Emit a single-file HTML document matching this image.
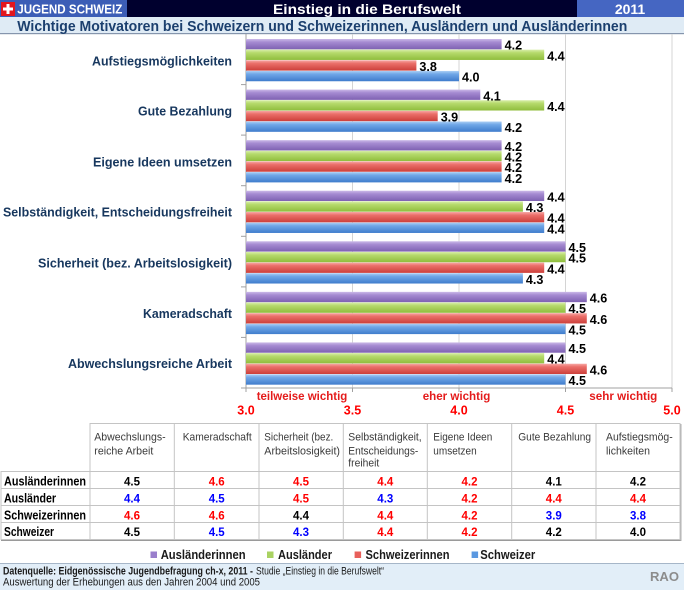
<!DOCTYPE html>
<html><head><meta charset="utf-8"><style>
html,body{margin:0;padding:0;background:#fff;}
svg{display:block;font-family:"Liberation Sans",Arial,sans-serif;}
</style></head><body>
<svg width="684" height="590" viewBox="0 0 684 590" xmlns="http://www.w3.org/2000/svg">
<defs>
<linearGradient id="gp" x1="0" y1="0" x2="0" y2="1"><stop offset="0" stop-color="#cbb9e8"/><stop offset="0.3" stop-color="#a68bd2"/><stop offset="1" stop-color="#7e61b2"/></linearGradient>
<linearGradient id="gg" x1="0" y1="0" x2="0" y2="1"><stop offset="0" stop-color="#d8eeaa"/><stop offset="0.3" stop-color="#b6da6c"/><stop offset="1" stop-color="#8fbd3c"/></linearGradient>
<linearGradient id="gr" x1="0" y1="0" x2="0" y2="1"><stop offset="0" stop-color="#f7a8a5"/><stop offset="0.3" stop-color="#eb6f6a"/><stop offset="1" stop-color="#cc3f3a"/></linearGradient>
<linearGradient id="gb" x1="0" y1="0" x2="0" y2="1"><stop offset="0" stop-color="#abcff5"/><stop offset="0.3" stop-color="#70a7e7"/><stop offset="1" stop-color="#3f7ccc"/></linearGradient>
</defs>

<!-- header row 1 -->
<rect x="0" y="0" width="127" height="17" fill="#3c5db6"/>
<rect x="127" y="0" width="450" height="17" fill="#00002e"/>
<rect x="577" y="0" width="107" height="17" fill="#4566c2"/>
<rect x="1" y="2" width="14" height="14" fill="#e3161e"/>
<rect x="6.5" y="4" width="3" height="10" fill="#fff"/>
<rect x="3" y="7.5" width="10" height="3" fill="#fff"/>
<text x="17.3" y="13.5" font-size="12.5" font-weight="bold" fill="#fff" textLength="105" lengthAdjust="spacingAndGlyphs">JUGEND SCHWEIZ</text>
<text x="273" y="14" font-size="14" font-weight="bold" fill="#fff" textLength="188" lengthAdjust="spacingAndGlyphs">Einstieg in die Berufswelt</text>
<text x="630" y="14" font-size="14" font-weight="bold" fill="#fff" text-anchor="middle">2011</text>

<!-- header row 2 -->
<rect x="0" y="17" width="684" height="17" fill="#dfebf5"/>
<rect x="0" y="33" width="684" height="1.2" fill="#8595ad"/>
<text x="17.3" y="31" font-size="15" font-weight="bold" fill="#1b3f6e" textLength="610" lengthAdjust="spacingAndGlyphs">Wichtige Motivatoren bei Schweizern und Schweizerinnen, Ausländern und Ausländerinnen</text>

<!-- plot area -->
<g stroke="#d4d4d4" stroke-width="1">
<line x1="352.5" y1="34" x2="352.5" y2="388"/>
<line x1="459" y1="34" x2="459" y2="388"/>
<line x1="565.5" y1="34" x2="565.5" y2="388"/>
<line x1="672" y1="34" x2="672" y2="388"/>
</g>
<g stroke="#a0a0a0" stroke-width="1">
<line x1="246" y1="34" x2="246" y2="388"/>
<line x1="246" y1="388" x2="672" y2="388"/>
<line x1="241" y1="84.6" x2="246" y2="84.6"/>
<line x1="241" y1="135.1" x2="246" y2="135.1"/>
<line x1="241" y1="185.7" x2="246" y2="185.7"/>
<line x1="241" y1="236.3" x2="246" y2="236.3"/>
<line x1="241" y1="286.9" x2="246" y2="286.9"/>
<line x1="241" y1="337.4" x2="246" y2="337.4"/>
<line x1="241" y1="388" x2="246" y2="388"/>
<line x1="246" y1="388" x2="246" y2="392"/>
<line x1="352.5" y1="388" x2="352.5" y2="392"/>
<line x1="459" y1="388" x2="459" y2="392"/>
<line x1="565.5" y1="388" x2="565.5" y2="392"/>
<line x1="672" y1="388" x2="672" y2="392"/>
</g>

<!-- category labels -->
<g font-size="13" font-weight="bold" fill="#17375e" text-anchor="end">
<text x="232" y="65.5" textLength="140" lengthAdjust="spacingAndGlyphs">Aufstiegsmöglichkeiten</text>
<text x="232" y="115.7" textLength="94" lengthAdjust="spacingAndGlyphs">Gute Bezahlung</text>
<text x="232" y="166.3" textLength="139" lengthAdjust="spacingAndGlyphs">Eigene Ideen umsetzen</text>
<text x="232" y="216.7" textLength="229" lengthAdjust="spacingAndGlyphs">Selbständigkeit, Entscheidungsfreiheit</text>
<text x="232" y="267.3" textLength="194" lengthAdjust="spacingAndGlyphs">Sicherheit (bez. Arbeitslosigkeit)</text>
<text x="232" y="318" textLength="89" lengthAdjust="spacingAndGlyphs">Kameradschaft</text>
<text x="232" y="368" textLength="164" lengthAdjust="spacingAndGlyphs">Abwechslungsreiche Arbeit</text>
</g>

<!-- bars -->
<g>
<rect x="246" y="39" width="255.6" height="10.3" fill="url(#gp)"/>
<rect x="246" y="49.65" width="298.2" height="10.3" fill="url(#gg)"/>
<rect x="246" y="60.3" width="170.4" height="10.3" fill="url(#gr)"/>
<rect x="246" y="70.95" width="213" height="10.3" fill="url(#gb)"/>

<rect x="246" y="89.57" width="234.3" height="10.3" fill="url(#gp)"/>
<rect x="246" y="100.22" width="298.2" height="10.3" fill="url(#gg)"/>
<rect x="246" y="110.87" width="191.7" height="10.3" fill="url(#gr)"/>
<rect x="246" y="121.52" width="255.6" height="10.3" fill="url(#gb)"/>

<rect x="246" y="140.14" width="255.6" height="10.3" fill="url(#gp)"/>
<rect x="246" y="150.79" width="255.6" height="10.3" fill="url(#gg)"/>
<rect x="246" y="161.44" width="255.6" height="10.3" fill="url(#gr)"/>
<rect x="246" y="172.09" width="255.6" height="10.3" fill="url(#gb)"/>

<rect x="246" y="190.71" width="298.2" height="10.3" fill="url(#gp)"/>
<rect x="246" y="201.36" width="276.9" height="10.3" fill="url(#gg)"/>
<rect x="246" y="212.01" width="298.2" height="10.3" fill="url(#gr)"/>
<rect x="246" y="222.66" width="298.2" height="10.3" fill="url(#gb)"/>

<rect x="246" y="241.28" width="319.5" height="10.3" fill="url(#gp)"/>
<rect x="246" y="251.93" width="319.5" height="10.3" fill="url(#gg)"/>
<rect x="246" y="262.58" width="298.2" height="10.3" fill="url(#gr)"/>
<rect x="246" y="273.23" width="276.9" height="10.3" fill="url(#gb)"/>

<rect x="246" y="291.85" width="340.8" height="10.3" fill="url(#gp)"/>
<rect x="246" y="302.5" width="319.5" height="10.3" fill="url(#gg)"/>
<rect x="246" y="313.15" width="340.8" height="10.3" fill="url(#gr)"/>
<rect x="246" y="323.8" width="319.5" height="10.3" fill="url(#gb)"/>

<rect x="246" y="342.42" width="319.5" height="10.3" fill="url(#gp)"/>
<rect x="246" y="353.07" width="298.2" height="10.3" fill="url(#gg)"/>
<rect x="246" y="363.72" width="340.8" height="10.3" fill="url(#gr)"/>
<rect x="246" y="374.37" width="319.5" height="10.3" fill="url(#gb)"/>
</g>

<!-- value labels -->
<g font-size="13" font-weight="bold" fill="#000">
<text x="504.6" y="49.7" textLength="17.5" lengthAdjust="spacingAndGlyphs">4.2</text>
<text x="547.2" y="60.3" textLength="17.5" lengthAdjust="spacingAndGlyphs">4.4</text>
<text x="419.4" y="71" textLength="17.5" lengthAdjust="spacingAndGlyphs">3.8</text>
<text x="462" y="81.6" textLength="17.5" lengthAdjust="spacingAndGlyphs">4.0</text>

<text x="483.3" y="100.3" textLength="17.5" lengthAdjust="spacingAndGlyphs">4.1</text>
<text x="547.2" y="110.9" textLength="17.5" lengthAdjust="spacingAndGlyphs">4.4</text>
<text x="440.7" y="121.6" textLength="17.5" lengthAdjust="spacingAndGlyphs">3.9</text>
<text x="504.6" y="132.2" textLength="17.5" lengthAdjust="spacingAndGlyphs">4.2</text>

<text x="504.6" y="150.8" textLength="17.5" lengthAdjust="spacingAndGlyphs">4.2</text>
<text x="504.6" y="161.5" textLength="17.5" lengthAdjust="spacingAndGlyphs">4.2</text>
<text x="504.6" y="172.1" textLength="17.5" lengthAdjust="spacingAndGlyphs">4.2</text>
<text x="504.6" y="182.8" textLength="17.5" lengthAdjust="spacingAndGlyphs">4.2</text>

<text x="547.2" y="201.4" textLength="17.5" lengthAdjust="spacingAndGlyphs">4.4</text>
<text x="525.9" y="212" textLength="17.5" lengthAdjust="spacingAndGlyphs">4.3</text>
<text x="547.2" y="222.7" textLength="17.5" lengthAdjust="spacingAndGlyphs">4.4</text>
<text x="547.2" y="233.3" textLength="17.5" lengthAdjust="spacingAndGlyphs">4.4</text>

<text x="568.5" y="252" textLength="17.5" lengthAdjust="spacingAndGlyphs">4.5</text>
<text x="568.5" y="262.6" textLength="17.5" lengthAdjust="spacingAndGlyphs">4.5</text>
<text x="547.2" y="273.3" textLength="17.5" lengthAdjust="spacingAndGlyphs">4.4</text>
<text x="525.9" y="283.9" textLength="17.5" lengthAdjust="spacingAndGlyphs">4.3</text>

<text x="589.8" y="302.5" textLength="17.5" lengthAdjust="spacingAndGlyphs">4.6</text>
<text x="568.5" y="313.2" textLength="17.5" lengthAdjust="spacingAndGlyphs">4.5</text>
<text x="589.8" y="323.8" textLength="17.5" lengthAdjust="spacingAndGlyphs">4.6</text>
<text x="568.5" y="334.5" textLength="17.5" lengthAdjust="spacingAndGlyphs">4.5</text>

<text x="568.5" y="353.1" textLength="17.5" lengthAdjust="spacingAndGlyphs">4.5</text>
<text x="547.2" y="363.7" textLength="17.5" lengthAdjust="spacingAndGlyphs">4.4</text>
<text x="589.8" y="374.4" textLength="17.5" lengthAdjust="spacingAndGlyphs">4.6</text>
<text x="568.5" y="385" textLength="17.5" lengthAdjust="spacingAndGlyphs">4.5</text>
</g>

<!-- axis labels -->
<g font-size="12" font-weight="bold" fill="#e41b1b">
<text x="256.7" y="400" textLength="90.6" lengthAdjust="spacingAndGlyphs">teilweise wichtig</text>
<text x="422.7" y="400" textLength="67.6" lengthAdjust="spacingAndGlyphs">eher wichtig</text>
<text x="589.3" y="400" textLength="68" lengthAdjust="spacingAndGlyphs">sehr wichtig</text>
</g>
<g font-size="12.5" font-weight="bold" fill="#ff0000" text-anchor="middle">
<text x="246" y="414.5">3.0</text>
<text x="352.5" y="414.5">3.5</text>
<text x="459" y="414.5">4.0</text>
<text x="565.5" y="414.5">4.5</text>
<text x="672" y="414.5">5.0</text>
</g>

<!-- table -->
<g stroke="#c4c4c4" stroke-width="1" fill="none">
<rect x="90" y="423.5" width="590" height="48"/>
<rect x="1" y="471.5" width="679" height="68"/>
<line x1="1" y1="488.5" x2="680" y2="488.5"/>
<line x1="1" y1="505.5" x2="680" y2="505.5"/>
<line x1="1" y1="522.5" x2="680" y2="522.5"/>
<line x1="90" y1="423.5" x2="90" y2="539.5"/>
<line x1="174.3" y1="423.5" x2="174.3" y2="539.5"/>
<line x1="259" y1="423.5" x2="259" y2="539.5"/>
<line x1="343.3" y1="423.5" x2="343.3" y2="539.5"/>
<line x1="427.3" y1="423.5" x2="427.3" y2="539.5"/>
<line x1="511.7" y1="423.5" x2="511.7" y2="539.5"/>
<line x1="596" y1="423.5" x2="596" y2="539.5"/>
</g>
<line x1="1" y1="540.5" x2="681" y2="540.5" stroke="#9a9a9a" stroke-width="1"/>
<line x1="681" y1="424" x2="681" y2="541" stroke="#b0b0b0" stroke-width="1"/>

<g font-size="11" fill="#3a3a3a">
<text x="94.3" y="440.7" textLength="71.3" lengthAdjust="spacingAndGlyphs">Abwechslungs-</text>
<text x="94.3" y="454.7" textLength="59" lengthAdjust="spacingAndGlyphs">reiche Arbeit</text>
<text x="182.7" y="440.7" textLength="69" lengthAdjust="spacingAndGlyphs">Kameradschaft</text>
<text x="264.3" y="440.7" textLength="69" lengthAdjust="spacingAndGlyphs">Sicherheit (bez.</text>
<text x="264.3" y="454.7" textLength="75.7" lengthAdjust="spacingAndGlyphs">Arbeitslosigkeit)</text>
<text x="348.3" y="440.7" textLength="73.4" lengthAdjust="spacingAndGlyphs">Selbständigkeit,</text>
<text x="348.3" y="454.7" textLength="70" lengthAdjust="spacingAndGlyphs">Entscheidungs-</text>
<text x="348.3" y="466.7" textLength="31" lengthAdjust="spacingAndGlyphs">freiheit</text>
<text x="433.3" y="440.7" textLength="59" lengthAdjust="spacingAndGlyphs">Eigene Ideen</text>
<text x="433.3" y="454.7" textLength="43.4" lengthAdjust="spacingAndGlyphs">umsetzen</text>
<text x="518.3" y="440.7" textLength="72.7" lengthAdjust="spacingAndGlyphs">Gute Bezahlung</text>
<text x="606" y="440.7" textLength="66.7" lengthAdjust="spacingAndGlyphs">Aufstiegsmög-</text>
<text x="606" y="454.7" textLength="44" lengthAdjust="spacingAndGlyphs">lichkeiten</text>
</g>

<g font-size="13" font-weight="bold" fill="#000">
<text x="4" y="485.5" textLength="82" lengthAdjust="spacingAndGlyphs">Ausländerinnen</text>
<text x="4" y="502.5" textLength="52" lengthAdjust="spacingAndGlyphs">Ausländer</text>
<text x="4" y="519.5" textLength="82" lengthAdjust="spacingAndGlyphs">Schweizerinnen</text>
<text x="4" y="536.2" textLength="50" lengthAdjust="spacingAndGlyphs">Schweizer</text>
</g>

<g font-size="11.5" font-weight="bold" text-anchor="middle">
<text x="132" y="485.5" fill="#000">4.5</text>
<text x="216.7" y="485.5" fill="#ff0000">4.6</text>
<text x="301" y="485.5" fill="#ff0000">4.5</text>
<text x="385.3" y="485.5" fill="#ff0000">4.4</text>
<text x="469.5" y="485.5" fill="#ff0000">4.2</text>
<text x="553.8" y="485.5" fill="#000">4.1</text>
<text x="638" y="485.5" fill="#000">4.2</text>

<text x="132" y="502.5" fill="#0000ff">4.4</text>
<text x="216.7" y="502.5" fill="#0000ff">4.5</text>
<text x="301" y="502.5" fill="#ff0000">4.5</text>
<text x="385.3" y="502.5" fill="#0000ff">4.3</text>
<text x="469.5" y="502.5" fill="#ff0000">4.2</text>
<text x="553.8" y="502.5" fill="#ff0000">4.4</text>
<text x="638" y="502.5" fill="#ff0000">4.4</text>

<text x="132" y="519.3" fill="#ff0000">4.6</text>
<text x="216.7" y="519.3" fill="#ff0000">4.6</text>
<text x="301" y="519.3" fill="#000">4.4</text>
<text x="385.3" y="519.3" fill="#ff0000">4.4</text>
<text x="469.5" y="519.3" fill="#ff0000">4.2</text>
<text x="553.8" y="519.3" fill="#0000ff">3.9</text>
<text x="638" y="519.3" fill="#0000ff">3.8</text>

<text x="132" y="536" fill="#000">4.5</text>
<text x="216.7" y="536" fill="#0000ff">4.5</text>
<text x="301" y="536" fill="#0000ff">4.3</text>
<text x="385.3" y="536" fill="#ff0000">4.4</text>
<text x="469.5" y="536" fill="#ff0000">4.2</text>
<text x="553.8" y="536" fill="#000">4.2</text>
<text x="638" y="536" fill="#000">4.0</text>
</g>

<!-- legend -->
<rect x="150.5" y="551.5" width="6.5" height="6.5" fill="#9a7fcc"/>
<rect x="267" y="551.5" width="6.5" height="6.5" fill="#a9d262"/>
<rect x="354.6" y="551.5" width="6.5" height="6.5" fill="#e8605b"/>
<rect x="471.6" y="551.5" width="6.5" height="6.5" fill="#5a98e0"/>
<g font-size="13" font-weight="bold" fill="#1a1a1a">
<text x="160.7" y="559.2" textLength="85" lengthAdjust="spacingAndGlyphs">Ausländerinnen</text>
<text x="278" y="559.2" textLength="54" lengthAdjust="spacingAndGlyphs">Ausländer</text>
<text x="365.5" y="559.2" textLength="84" lengthAdjust="spacingAndGlyphs">Schweizerinnen</text>
<text x="480.3" y="559.2" textLength="55" lengthAdjust="spacingAndGlyphs">Schweizer</text>
</g>

<!-- footer -->
<rect x="0" y="563" width="684" height="27" fill="#e2eef8"/>
<rect x="0" y="563" width="684" height="1" fill="#a6b6c8"/>
<text x="3" y="574.5" font-size="11" font-weight="bold" fill="#1a1a1a" textLength="250" lengthAdjust="spacingAndGlyphs">Datenquelle: Eidgenössische Jugendbefragung ch-x, 2011 -</text>
<text x="256" y="574.5" font-size="11" fill="#1a1a1a" textLength="128" lengthAdjust="spacingAndGlyphs">Studie „Einstieg in die Berufswelt“</text>
<text x="3" y="585.3" font-size="11" fill="#1a1a1a" textLength="257" lengthAdjust="spacingAndGlyphs">Auswertung der Erhebungen aus den Jahren 2004 und 2005</text>
<text x="650" y="581" font-size="12.5" font-weight="bold" fill="#8c8c8c" textLength="29" lengthAdjust="spacingAndGlyphs">RAO</text>
</svg>
</body></html>
